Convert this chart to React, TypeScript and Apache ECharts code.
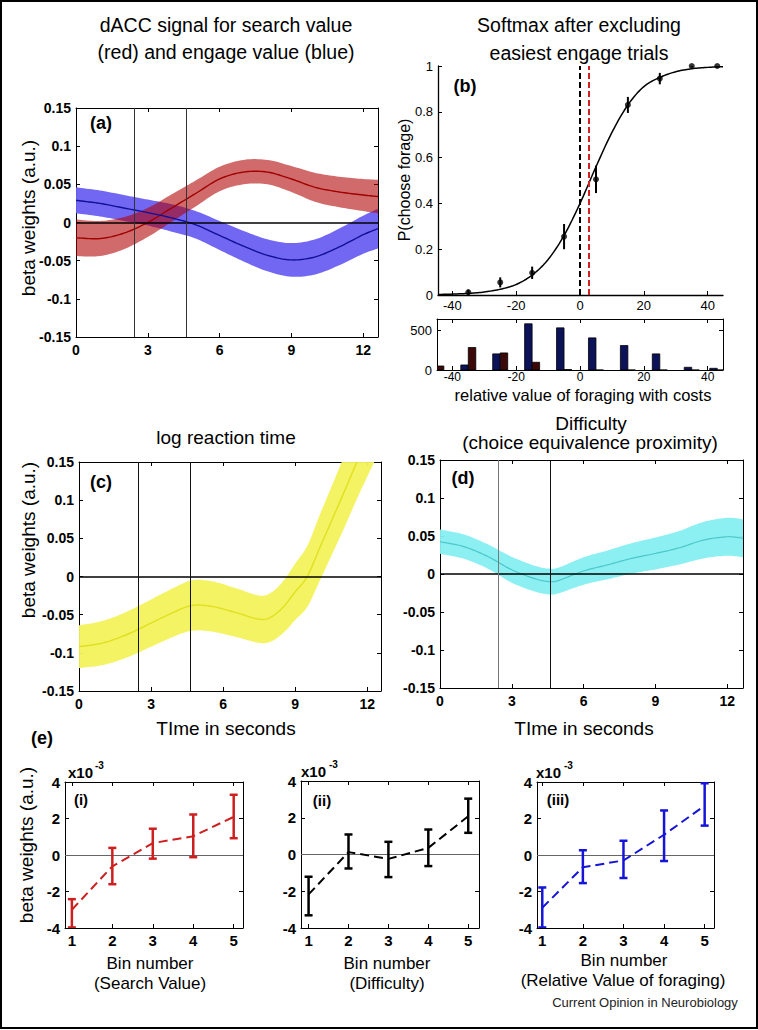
import React, { useEffect, useRef } from 'react';
import * as echarts from 'echarts';

const FONT = '"Liberation Sans", Arial, Helvetica, sans-serif';

// ---------- (a) dACC signal: search value (red) and engage value (blue)
const timeA = [0, 1, 2, 3, 4, 5, 6, 7, 8, 9, 10, 11, 12, 12.62];
const searchMean = [-0.02, -0.021, -0.014, 0.0, 0.019, 0.038, 0.057, 0.066, 0.066, 0.057, 0.046, 0.04, 0.036, 0.034];
const searchHalf = [0.024, 0.023, 0.021, 0.019, 0.018, 0.017, 0.016, 0.016, 0.016, 0.017, 0.019, 0.02, 0.021, 0.022];
const engageMean = [0.029, 0.025, 0.019, 0.013, 0.006, -0.003, -0.017, -0.031, -0.043, -0.049, -0.045, -0.032, -0.016, -0.008];
const engageHalf = [0.017, 0.017, 0.017, 0.017, 0.018, 0.018, 0.019, 0.02, 0.021, 0.022, 0.023, 0.024, 0.025, 0.026];
const eventTimes = [2.45, 4.62];

// ---------- (b) softmax
const softX = [-45, -40, -35, -30, -25, -20, -15, -10, -5, 0, 5, 10, 15, 20, 25, 30, 35, 40, 45];
const softFit = [0.002, 0.004, 0.007, 0.013, 0.025, 0.046, 0.087, 0.155, 0.26, 0.4, 0.56, 0.71, 0.83, 0.91, 0.95, 0.975, 0.988, 0.994, 0.997];
const choiceX = [-35, -25, -15, -5, 5, 15, 25, 35, 43];
const choiceP = [0.012, 0.055, 0.097, 0.255, 0.505, 0.83, 0.945, 1.0, 1.0];
const choiceErr = [0.012, 0.022, 0.027, 0.055, 0.06, 0.035, 0.025, 0.006, 0.006];
const indifference = [0, 2.8];
const histBins = [-45, -35, -25, -15, -5, 5, 15, 25, 35, 43];
const countsNavy = [0, 63, 202, 580, 529, 403, 307, 202, 34, 21];
const countsMaroon = [50, 282, 214, 97, 6, 0, 0, 0, 0, 0];

// ---------- (c) log reaction time
const timeC = [0, 1, 2, 3, 4, 4.7, 5.5, 6.5, 7.5, 8, 8.5, 9, 9.5, 10, 10.5, 11, 11.5, 12, 12.6];
const rtMean = [-0.092, -0.087, -0.076, -0.061, -0.046, -0.038, -0.039, -0.047, -0.056, -0.053, -0.04, -0.02, 0.0, 0.036, 0.072, 0.108, 0.145, 0.18, 0.22];
const rtHalf = [0.028, 0.029, 0.03, 0.031, 0.032, 0.033, 0.033, 0.032, 0.031, 0.032, 0.034, 0.037, 0.04, 0.043, 0.045, 0.047, 0.048, 0.049, 0.05];

// ---------- (d) difficulty
const timeD = [0, 1, 2, 3, 4, 4.6, 5, 6, 7, 8, 9, 10, 11, 12, 12.66];
const diffMean = [0.0425, 0.036, 0.023, 0.0055, -0.0065, -0.01, -0.008, 0.004, 0.012, 0.0205, 0.027, 0.0345, 0.0445, 0.049, 0.047];
const diffHalf = [0.016, 0.016, 0.016, 0.017, 0.017, 0.017, 0.017, 0.018, 0.019, 0.02, 0.021, 0.022, 0.024, 0.025, 0.025];

// ---------- (e) binned betas (x10^-3)
const bins = [1, 2, 3, 4, 5];
const searchBinMean = [-3.0, -0.62, 0.65, 1.03, 2.09];
const searchBinLo = [-3.97, -1.6, -0.2, -0.12, 0.92];
const searchBinHi = [-2.42, 0.39, 1.44, 2.22, 3.3];
const diffBinMean = [-2.17, 0.13, -0.24, 0.36, 2.08];
const diffBinLo = [-3.31, -0.76, -1.23, -0.63, 1.18];
const diffBinHi = [-1.21, 1.09, 0.69, 1.36, 3.04];
const relBinMean = [-2.89, -0.67, -0.3, 1.11, 2.7];
const relBinLo = [-3.97, -1.54, -1.26, -0.33, 1.61];
const relBinHi = [-1.78, 0.26, 0.78, 2.44, 3.93];

const timeTicks = [0, 3, 6, 9, 12];
const betaTicks = [-0.15, -0.1, -0.05, 0, 0.05, 0.1, 0.15];
const softXTicks = [-40, -20, 0, 20, 40];
const softYTicks = [0, 0.2, 0.4, 0.6, 0.8, 1];
const histYTicks = [0, 500];
const binTicks = [1, 2, 3, 4, 5];
const binYTicks = [-4, -2, 0, 2, 4];

const fmt = (v: number) => String(+Number(v).toFixed(4));

// Catmull-Rom smoothing of pixel points (rendering only)
function spline(pts: number[][], steps = 10): number[][] {
  const out: number[][] = [];
  const n = pts.length;
  for (let i = 0; i < n - 1; i++) {
    const p0 = pts[Math.max(i - 1, 0)], p1 = pts[i], p2 = pts[i + 1], p3 = pts[Math.min(i + 2, n - 1)];
    for (let s = 0; s < steps; s++) {
      const u = s / steps, u2 = u * u, u3 = u2 * u;
      out.push([0, 1].map((k) => 0.5 * (2 * p1[k] + (-p0[k] + p2[k]) * u + (2 * p0[k] - 5 * p1[k] + 4 * p2[k] - p3[k]) * u2 + (-p0[k] + 3 * p1[k] - 3 * p2[k] + p3[k]) * u3)));
    }
  }
  out.push(pts[n - 1]);
  return out;
}

function buildOption() {
  const grids: any[] = [];
  const xAxes: any[] = [];
  const yAxes: any[] = [];
  const series: any[] = [];

  function addPanel(p: any) {
    const g = grids.length;
    grids.push({ left: p.left, top: p.top, width: p.width, height: p.height, containLabel: false });
    const lab = { color: '#000', fontFamily: FONT, fontSize: p.fs, fontWeight: p.bold ? 'bold' : 'normal', formatter: fmt };
    const xi = xAxes.length;
    xAxes.push({
      type: 'value', gridIndex: g, min: p.x[0], max: p.x[1], position: 'bottom',
      axisLine: { show: true, onZero: false, lineStyle: { color: '#000', width: p.lw || 1 } },
      axisTick: { show: true, inside: true, length: 4, customValues: p.xt, lineStyle: { color: '#000' } },
      axisLabel: { ...lab, fontSize: p.xfs || p.fs, customValues: p.xt, margin: p.xm },
      splitLine: { show: false },
    });
    if (p.box) {
      xAxes.push({
        type: 'value', gridIndex: g, min: p.x[0], max: p.x[1], position: 'top',
        axisLine: { show: true, onZero: false, lineStyle: { color: '#000', width: 1 } },
        axisTick: { show: true, inside: true, length: 4, customValues: p.xt, lineStyle: { color: '#000' } },
        axisLabel: { show: false }, splitLine: { show: false },
      });
    }
    const yi = yAxes.length;
    yAxes.push({
      type: 'value', gridIndex: g, min: p.y[0], max: p.y[1], position: 'left',
      axisLine: { show: true, onZero: false, lineStyle: { color: '#000', width: p.lw || 1 } },
      axisTick: { show: true, inside: true, length: 4, customValues: p.yt, lineStyle: { color: '#000' } },
      axisLabel: { ...lab, customValues: p.yt, margin: p.ym },
      splitLine: { show: false },
    });
    if (p.box) {
      yAxes.push({
        type: 'value', gridIndex: g, min: p.y[0], max: p.y[1], position: 'right',
        axisLine: { show: true, onZero: false, lineStyle: { color: '#000', width: 1 } },
        axisTick: { show: true, inside: true, length: 4, customValues: p.yt, lineStyle: { color: '#000' } },
        axisLabel: { show: false }, splitLine: { show: false },
      });
    }
    return { xAxisIndex: xi, yAxisIndex: yi };
  }

  // shaded band (mean +/- half width), drawn through the axes' scales
  function band(ax: any, t: number[], mean: number[], half: number[], fill: string, opacity: number, z: number) {
    series.push({
      type: 'custom', ...ax, clip: true, silent: true, z,
      data: t.map((x, i) => [x, mean[i] - half[i], mean[i] + half[i]]),
      renderItem: (params: any, api: any) => {
        if (params.dataIndexInside !== 0) return null;
        const up: number[][] = [];
        const lo: number[][] = [];
        for (let i = 0; i < t.length; i++) {
          const x = api.value(0, i);
          lo.push(api.coord([x, api.value(1, i)]));
          up.push(api.coord([x, api.value(2, i)]));
        }
        const pts = spline(up).concat(spline(lo).reverse());
        return { type: 'polygon', shape: { points: pts }, style: { fill, opacity } };
      },
    });
  }

  function meanLine(ax: any, t: number[], mean: number[], stroke: string, lineWidth: number, z: number) {
    series.push({
      type: 'custom', ...ax, clip: true, silent: true, z,
      data: t.map((x, i) => [x, mean[i]]),
      renderItem: (params: any, api: any) => {
        if (params.dataIndexInside !== 0) return null;
        const pts: number[][] = [];
        for (let i = 0; i < t.length; i++) pts.push(api.coord([api.value(0, i), api.value(1, i)]));
        return { type: 'polyline', shape: { points: spline(pts) }, style: { stroke, lineWidth, fill: 'none' } };
      },
    });
  }

  function refLines(ax: any, vColor: string[], zeroColor: string, zeroWidth: number, vx: number[]) {
    series.push({
      type: 'line', ...ax, data: [], symbol: 'none', silent: true, z: 6,
      markLine: {
        symbol: ['none', 'none'], silent: true, label: { show: false }, z: 6,
        data: [
          { yAxis: 0, lineStyle: { color: zeroColor, width: zeroWidth, type: 'solid' } },
          ...vx.map((x, i) => ({ xAxis: x, lineStyle: { color: vColor[i], width: 1, type: 'solid' } })),
        ],
      },
    });
  }

  // (a)
  const axA = addPanel({ left: 76, top: 108, width: 302, height: 229, x: [0, 12.62], y: [-0.15, 0.15], xt: timeTicks, yt: betaTicks, box: true, bold: true, fs: 14, xm: 6, ym: 5 });
  band(axA, timeA, engageMean, engageHalf, '#6a5ff2', 0.95, 2);
  band(axA, timeA, searchMean, searchHalf, '#b00000', 0.58, 3);
  meanLine(axA, timeA, searchMean, '#a00000', 1.4, 4);
  meanLine(axA, timeA, engageMean, '#10109a', 1.4, 4);
  refLines(axA, ['#333', '#333'], '#000', 1.6, eventTimes);

  // (b) softmax
  const axB = addPanel({ left: 438, top: 66, width: 285, height: 229, x: [-44.5, 44.8], y: [0, 1], xt: softXTicks, yt: softYTicks, box: false, bold: false, fs: 13, xm: 4, ym: 5, lw: 1.3 });
  meanLine(axB, softX, softFit, '#000', 1.5, 3);
  series.push({
    type: 'line', ...axB, data: [], symbol: 'none', silent: true,
    markLine: {
      symbol: ['none', 'none'], silent: true, label: { show: false },
      data: [
        { xAxis: indifference[0], lineStyle: { color: '#000', width: 2, type: [6, 3] } },
        { xAxis: indifference[1], lineStyle: { color: '#d42020', width: 2, type: [6, 3] } },
      ],
    },
  });
  series.push({
    type: 'custom', ...axB, clip: true, silent: true, z: 4,
    data: choiceX.map((x, i) => [x, choiceP[i], choiceP[i] - choiceErr[i], choiceP[i] + choiceErr[i]]),
    renderItem: (params: any, api: any) => {
      const x = api.value(0);
      const p1 = api.coord([x, api.value(2)]);
      const p2 = api.coord([x, api.value(3)]);
      return { type: 'line', shape: { x1: p1[0], y1: p1[1], x2: p2[0], y2: p2[1] }, style: { stroke: '#000', lineWidth: 2 } };
    },
  });
  series.push({
    type: 'scatter', ...axB, symbol: 'circle', symbolSize: 6, silent: true, z: 5,
    data: choiceX.map((x, i) => [x, choiceP[i]]), itemStyle: { color: '#000' },
  });

  // histogram
  const axH = addPanel({ left: 437, top: 319, width: 286, height: 51, x: [-44.8, 44.8], y: [0, 640], xt: softXTicks, yt: histYTicks, box: true, bold: false, fs: 13, xfs: 12, xm: 1, ym: 5 });
  const barW = 7.5;
  const barItem = (side: number, fill: string) => (params: any, api: any) => {
    const x = api.value(0);
    const base = api.coord([x, 0]);
    const top = api.coord([x, api.value(1)]);
    return {
      type: 'rect',
      shape: { x: side < 0 ? base[0] - barW : base[0], y: top[1], width: barW, height: base[1] - top[1] },
      style: { fill, stroke: '#000', lineWidth: 0.8 },
    };
  };
  series.push({ type: 'custom', ...axH, clip: true, silent: true, data: histBins.map((x, i) => [x, countsNavy[i]]), renderItem: barItem(-1, '#0b1257') });
  series.push({ type: 'custom', ...axH, clip: true, silent: true, data: histBins.map((x, i) => [x, countsMaroon[i]]), renderItem: barItem(1, '#3d0808') });

  // (c)
  const axC = addPanel({ left: 79, top: 462, width: 302, height: 229, x: [0, 12.57], y: [-0.15, 0.15], xt: timeTicks, yt: betaTicks, box: true, bold: true, fs: 14, xm: 6, ym: 5 });
  band(axC, timeC, rtMean, rtHalf, '#f2f25c', 0.95, 2);
  meanLine(axC, timeC, rtMean, '#e0e020', 1.4, 3);
  refLines(axC, ['#111', '#111'], '#000', 1.6, eventTimes);

  // (d)
  const axD = addPanel({ left: 440, top: 460, width: 303, height: 228, x: [0, 12.66], y: [-0.15, 0.15], xt: timeTicks, yt: betaTicks, box: true, bold: true, fs: 14, xm: 6, ym: 5 });
  band(axD, timeD, diffMean, diffHalf, '#86eef0', 0.95, 2);
  meanLine(axD, timeD, diffMean, '#4cc8cc', 1.2, 3);
  refLines(axD, ['#777', '#111'], '#000', 1.6, eventTimes);

  // (e)
  const ePanels = [
    { left: 65, top: 782, width: 178, height: 146, x: [0.83, 5.23], mean: searchBinMean, lo: searchBinLo, hi: searchBinHi, color: '#cc1f1f' },
    { left: 301, top: 781, width: 178, height: 147, x: [0.81, 5.27], mean: diffBinMean, lo: diffBinLo, hi: diffBinHi, color: '#000000' },
    { left: 537, top: 782, width: 177, height: 146, x: [0.87, 5.23], mean: relBinMean, lo: relBinLo, hi: relBinHi, color: '#1515d8' },
  ];
  ePanels.forEach((ep) => {
    const ax = addPanel({ left: ep.left, top: ep.top, width: ep.width, height: ep.height, x: ep.x, y: [-4, 4], xt: binTicks, yt: binYTicks, box: true, bold: true, fs: 15, xm: 5, ym: 5 });
    series.push({
      type: 'line', ...ax, symbol: 'none', silent: true, z: 3,
      data: bins.map((b, i) => [b, ep.mean[i]]), lineStyle: { color: ep.color, width: 2, type: [9, 5] },
      markLine: { symbol: ['none', 'none'], silent: true, label: { show: false }, z: 1, data: [{ yAxis: 0, lineStyle: { color: '#666', width: 1.2, type: 'solid' } }] },
    });
    series.push({
      type: 'custom', ...ax, clip: true, silent: true, z: 4,
      data: bins.map((b, i) => [b, ep.mean[i], ep.lo[i], ep.hi[i]]),
      renderItem: (params: any, api: any) => {
        const x = api.value(0);
        const p1 = api.coord([x, api.value(2)]);
        const p2 = api.coord([x, api.value(3)]);
        const st = { stroke: ep.color, lineWidth: 2.5 };
        return {
          type: 'group',
          children: [
            { type: 'line', shape: { x1: p1[0], y1: p1[1], x2: p2[0], y2: p2[1] }, style: st },
            { type: 'line', shape: { x1: p1[0] - 4, y1: p1[1], x2: p1[0] + 4, y2: p1[1] }, style: st },
            { type: 'line', shape: { x1: p2[0] - 4, y1: p2[1], x2: p2[0] + 4, y2: p2[1] }, style: st },
          ],
        };
      },
    });
  });

  const txt = (text: string, x: number, y: number, fs: number, opts: any = {}) => ({
    type: 'text', x, y, rotation: opts.rotation || 0, silent: true,
    style: {
      text, fontSize: fs, fontFamily: FONT, fontWeight: opts.bold ? 'bold' : 'normal', fill: opts.fill || '#000',
      align: opts.align || 'center', verticalAlign: 'middle', textAlign: opts.align || 'center', textVerticalAlign: 'middle',
    },
  });

  const graphics = [
    { type: 'rect', silent: true, shape: { x: 1, y: 1, width: 756, height: 1027 }, style: { fill: 'none', stroke: '#000', lineWidth: 2 } },
    txt('dACC signal for search value', 226, 25, 19.5),
    txt('(red) and engage value (blue)', 226, 52, 19.5),
    txt('Softmax after excluding', 579, 25, 19.5),
    txt('easiest engage trials', 579, 53, 19.5),
    txt('log reaction time', 226, 437, 19),
    txt('Difficulty', 591, 423, 19),
    txt('(choice equivalence proximity)', 590, 442, 19),
    txt('TIme in seconds', 226, 728, 19),
    txt('TIme in seconds', 584, 728, 19),
    txt('relative value of foraging with costs', 583, 395, 16.5),
    txt('beta weights (a.u.)', 28, 218, 19, { rotation: Math.PI / 2 }),
    txt('beta weights (a.u.)', 28, 540, 19, { rotation: Math.PI / 2 }),
    txt('beta weights (a.u.)', 26, 845, 19, { rotation: Math.PI / 2 }),
    txt('P(choose forage)', 404, 180, 16, { rotation: Math.PI / 2 }),
    txt('(a)', 101, 123, 18, { bold: true }),
    txt('(b)', 465, 86, 18, { bold: true }),
    txt('(c)', 101, 482, 18, { bold: true }),
    txt('(d)', 463, 478, 18, { bold: true }),
    txt('(e)', 42, 738, 18, { bold: true }),
    txt('(i)', 81, 799, 15, { bold: true }),
    txt('(ii)', 322, 800, 15, { bold: true }),
    txt('(iii)', 558, 799, 15, { bold: true }),
    txt('x10', 68, 772, 15, { bold: true, align: 'left' }),
    txt('-3', 95, 765, 10, { bold: true, align: 'left' }),
    txt('x10', 301, 771, 15, { bold: true, align: 'left' }),
    txt('-3', 329, 764, 10, { bold: true, align: 'left' }),
    txt('x10', 536, 772, 15, { bold: true, align: 'left' }),
    txt('-3', 564, 765, 10, { bold: true, align: 'left' }),
    txt('Bin number', 150, 963, 17),
    txt('(Search Value)', 150, 983, 17),
    txt('Bin number', 387, 963, 17),
    txt('(Difficulty)', 387, 983, 17),
    txt('Bin number', 624, 960, 17),
    txt('(Relative Value of foraging)', 623, 980, 17),
    txt('Current Opinion in Neurobiology', 645, 1002, 13, { fill: '#222' }),
  ];

  return {
    animation: false,
    backgroundColor: '#ffffff',
    grid: grids,
    xAxis: xAxes,
    yAxis: yAxes,
    series,
    graphic: { elements: graphics },
  };
}

export default function App() {
  const ref = useRef<HTMLDivElement>(null);
  useEffect(() => {
    document.body.style.margin = '0';
    const chart = echarts.init(ref.current as HTMLDivElement, null, { renderer: 'svg' });
    chart.setOption(buildOption() as any);
    return () => chart.dispose();
  }, []);
  return <div ref={ref} style={{ width: 758, height: 1030 }} />;
}
